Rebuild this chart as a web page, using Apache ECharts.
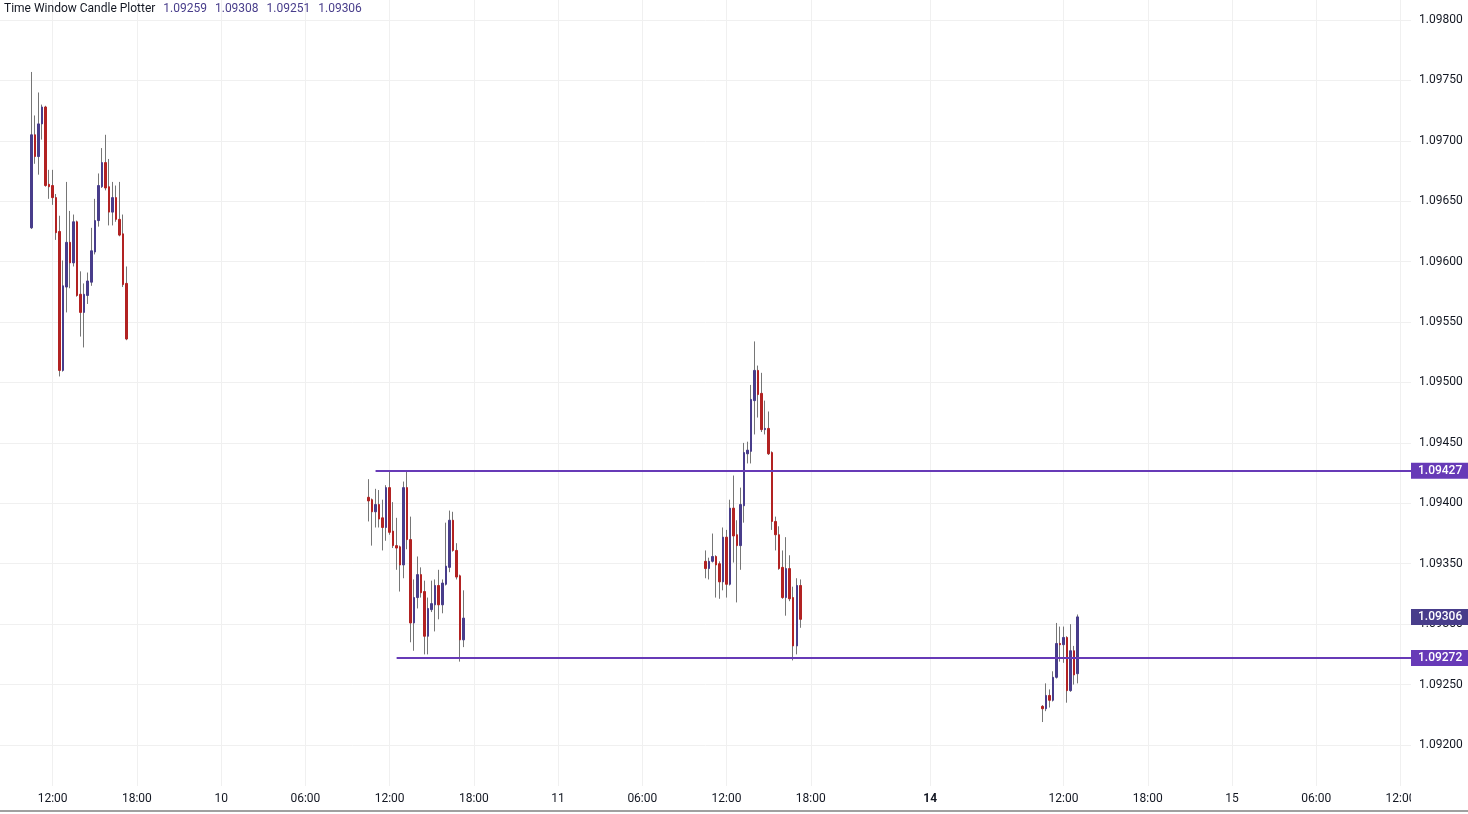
<!DOCTYPE html>
<html>
<head>
<meta charset="utf-8">
<script src="https://cdn.jsdelivr.net/npm/echarts@6/dist/echarts.min.js"></script>
<style>
html,body{margin:0;padding:0;background:#ffffff;}
#chart{width:1468px;height:814px;}
</style>
</head>
<body>
<div id="chart"></div>
<script>
// ---- time slots (15-minute bars, weekend removed) ----
const sessionDays = [
  { day: '09', from: '08:15', to: '23:45' },
  { day: '10', from: '00:00', to: '23:45' },
  { day: '11', from: '00:00', to: '23:45' },
  { day: '14', from: '00:00', to: '23:45' },
  { day: '15', from: '00:00', to: '12:45' }
];

// ---- tick labels on the time axis ----
const tickLabels = {
  '09 12:00': '12:00', '09 18:00': '18:00',
  '10 00:00': '10', '10 06:00': '06:00', '10 12:00': '12:00', '10 18:00': '18:00',
  '11 00:00': '11', '11 06:00': '06:00', '11 12:00': '12:00', '11 18:00': '18:00',
  '14 02:30': '14', '14 12:00': '12:00', '14 18:00': '18:00',
  '15 00:00': '15', '15 06:00': '06:00', '15 12:00': '12:00'
};
const boldTickLabels = ['14'];

// ---- candle windows: start slot and [open, high, low, close] ----
const windowStarts = ['09 10:30', '10 10:30', '11 10:30', '14 10:30'];

const window1 = [
  [1.09628, 1.09757, 1.09627, 1.09705],
  [1.09705, 1.09721, 1.09681, 1.09687],
  [1.09687, 1.09740, 1.09672, 1.09714],
  [1.09714, 1.09730, 1.09701, 1.09728],
  [1.09728, 1.09729, 1.09662, 1.09663],
  [1.09664, 1.09676, 1.09652, 1.09662],
  [1.09663, 1.09676, 1.09647, 1.09653],
  [1.09653, 1.09656, 1.09618, 1.09624],
  [1.09625, 1.09638, 1.09505, 1.09510],
  [1.09510, 1.09601, 1.09509, 1.09580],
  [1.09579, 1.09666, 1.09558, 1.09616],
  [1.09616, 1.09642, 1.09578, 1.09599],
  [1.09599, 1.09639, 1.09596, 1.09633],
  [1.09633, 1.09634, 1.09571, 1.09572],
  [1.09573, 1.09592, 1.09538, 1.09558],
  [1.09558, 1.09582, 1.09529, 1.09573],
  [1.09572, 1.09591, 1.09565, 1.09584],
  [1.09583, 1.09628, 1.09580, 1.09609],
  [1.09608, 1.09652, 1.09606, 1.09634],
  [1.09634, 1.09673, 1.09629, 1.09663],
  [1.09662, 1.09694, 1.09661, 1.09682],
  [1.09682, 1.09705, 1.09659, 1.09661],
  [1.09662, 1.09685, 1.09630, 1.09641],
  [1.09641, 1.09666, 1.09630, 1.09653],
  [1.09653, 1.09663, 1.09633, 1.09635],
  [1.09635, 1.09666, 1.09621, 1.09622],
  [1.09623, 1.09639, 1.09579, 1.09581],
  [1.09582, 1.09596, 1.09535, 1.09536]
];

const window2 = [
  [1.09405, 1.09420, 1.09385, 1.09402],
  [1.09403, 1.09404, 1.09365, 1.09393],
  [1.09393, 1.09412, 1.09380, 1.09399],
  [1.09399, 1.09411, 1.09380, 1.09387],
  [1.09388, 1.09403, 1.09361, 1.09380],
  [1.09380, 1.09415, 1.09369, 1.09413],
  [1.09413, 1.09427, 1.09374, 1.09376],
  [1.09377, 1.09401, 1.09363, 1.09365],
  [1.09365, 1.09388, 1.09345, 1.09363],
  [1.09364, 1.09365, 1.09327, 1.09349],
  [1.09349, 1.09418, 1.09338, 1.09413],
  [1.09413, 1.09427, 1.09362, 1.09370],
  [1.09370, 1.09389, 1.09285, 1.09301],
  [1.09301, 1.09337, 1.09278, 1.09322],
  [1.09322, 1.09356, 1.09313, 1.09341],
  [1.09341, 1.09347, 1.09322, 1.09326],
  [1.09327, 1.09336, 1.09275, 1.09290],
  [1.09290, 1.09322, 1.09275, 1.09313],
  [1.09312, 1.09336, 1.09310, 1.09317],
  [1.09316, 1.09337, 1.09294, 1.09332],
  [1.09332, 1.09345, 1.09304, 1.09316],
  [1.09316, 1.09337, 1.09309, 1.09334],
  [1.09333, 1.09384, 1.09332, 1.09348],
  [1.09347, 1.09394, 1.09343, 1.09386],
  [1.09386, 1.09393, 1.09360, 1.09361],
  [1.09361, 1.09367, 1.09337, 1.09339],
  [1.09340, 1.09341, 1.09269, 1.09287],
  [1.09287, 1.09328, 1.09281, 1.09305]
];

const window3 = [
  [1.09352, 1.09361, 1.09338, 1.09346],
  [1.09346, 1.09355, 1.09337, 1.09352],
  [1.09352, 1.09375, 1.09351, 1.09356],
  [1.09356, 1.09357, 1.09322, 1.09349],
  [1.09350, 1.09352, 1.09321, 1.09335],
  [1.09335, 1.09380, 1.09328, 1.09372],
  [1.09372, 1.09378, 1.09322, 1.09333],
  [1.09333, 1.09403, 1.09332, 1.09396],
  [1.09396, 1.09423, 1.09351, 1.09373],
  [1.09374, 1.09386, 1.09318, 1.09365],
  [1.09365, 1.09413, 1.09345, 1.09399],
  [1.09398, 1.09450, 1.09384, 1.09442],
  [1.09441, 1.09451, 1.09433, 1.09444],
  [1.09443, 1.09498, 1.09433, 1.09486],
  [1.09485, 1.09534, 1.09457, 1.09510],
  [1.09510, 1.09514, 1.09471, 1.09490],
  [1.09491, 1.09508, 1.09459, 1.09461],
  [1.09461, 1.09485, 1.09457, 1.09462],
  [1.09462, 1.09476, 1.09440, 1.09441],
  [1.09442, 1.09443, 1.09378, 1.09385],
  [1.09385, 1.09389, 1.09361, 1.09374],
  [1.09374, 1.09381, 1.09345, 1.09346],
  [1.09347, 1.09361, 1.09321, 1.09322],
  [1.09322, 1.09372, 1.09307, 1.09346],
  [1.09346, 1.09357, 1.09319, 1.09321],
  [1.09322, 1.09331, 1.09270, 1.09282],
  [1.09282, 1.09338, 1.09275, 1.09332],
  [1.09332, 1.09337, 1.09297, 1.09304]
];

const window4 = [
  [1.09232, 1.09233, 1.09219, 1.09230],
  [1.09230, 1.09251, 1.09228, 1.09241],
  [1.09241, 1.09246, 1.09231, 1.09237],
  [1.09237, 1.09261, 1.09236, 1.09256],
  [1.09256, 1.09301, 1.09255, 1.09284],
  [1.09284, 1.09298, 1.09269, 1.09283],
  [1.09283, 1.09298, 1.09268, 1.09289],
  [1.09289, 1.09290, 1.09235, 1.09245],
  [1.09245, 1.09300, 1.09244, 1.09278],
  [1.09278, 1.09282, 1.09250, 1.09258],
  [1.09259, 1.09308, 1.09251, 1.09306]
];

// ---- horizontal levels ----
const levelValues = [1.09427, 1.09272];
const levelStarts = ['10 11:00', '10 12:30'];

// ---- colours ----
const BULL = '#483D8B';
const BEAR = '#B22222';
const WICK = '#767676';
const LEVEL = '#673AB7';
const GRIDC = '#f0f0f0';
const TEXT = '#131722';
const FONT = 'Roboto, "Noto Sans", sans-serif';

// ---- build categories ----
function toMin(s) { const p = s.split(':').map(Number); return p[0] * 60 + p[1]; }
function pad(n) { return String(n).padStart(2, '0'); }
const categories = [];
sessionDays.forEach(function (d) {
  for (let t = toMin(d.from); t <= toMin(d.to); t += 15) {
    categories.push(d.day + ' ' + pad(Math.floor(t / 60)) + ':' + pad(t % 60));
  }
});
const lastIdx = categories.length - 1;

// ---- build candle data ----
const windows = [window1, window2, window3, window4];
const wickData = [];
const bodyData = [];
windows.forEach(function (win, w) {
  const s = categories.indexOf(windowStarts[w]);
  win.forEach(function (c, i) {
    const o = c[0], h = c[1], l = c[2], cl = c[3];
    wickData.push([s + i, o, cl, l, h]);
    bodyData.push([s + i, o, cl, Math.min(o, cl), Math.max(o, cl)]);
  });
});
const lastCandle = window4[window4.length - 1];
const lastColor = lastCandle[3] >= lastCandle[0] ? BULL : BEAR;

function boxLabel(text, bg) {
  return {
    show: true, position: 'end', distance: 0, formatter: text,
    color: '#ffffff', backgroundColor: bg, fontSize: 12, fontFamily: FONT,
    fontWeight: 500, lineHeight: 13, padding: [2, 7, 1, 7], opacity: 1
  };
}

const markData = levelValues.map(function (v, i) {
  return [
    { coord: [categories.indexOf(levelStarts[i]), v], lineStyle: { color: LEVEL, width: 2, type: 'solid' }, label: boxLabel(v.toFixed(5), LEVEL) },
    { coord: [lastIdx, v] }
  ];
});
const lastPriceMark = [[
  { coord: [lastIdx - 1, lastCandle[3]], lineStyle: { color: 'rgba(255,255,255,0)', width: 1, type: 'solid' }, label: boxLabel(lastCandle[3].toFixed(5), lastColor) },
  { coord: [lastIdx, lastCandle[3]] }
]];

const chart = echarts.init(document.getElementById('chart'), null, { renderer: 'canvas' });
chart.setOption({
  animation: false,
  backgroundColor: '#ffffff',
  title: {
    left: 4, top: 1, padding: 0,
    text: '{t|Time Window Candle Plotter}' + lastCandle.map(function (v) { return '{v|' + v.toFixed(5) + '}'; }).join(''),
    textStyle: {
      fontWeight: 'normal',
      rich: {
        t: { color: TEXT, fontSize: 12, fontWeight: 'normal', fontFamily: FONT, lineHeight: 16 },
        v: { color: lastColor, fontSize: 12, fontWeight: 'normal', fontFamily: FONT, lineHeight: 16, padding: [0, 0, 0, 8] }
      }
    }
  },
  grid: { left: 0, right: 57, top: 0, bottom: 28, containLabel: false, outerBoundsMode: 'none' },
  xAxis: {
    type: 'category',
    data: categories,
    boundaryGap: false,
    axisLine: { show: false },
    axisTick: { show: false },
    axisLabel: {
      interval: function (i, v) { return tickLabels[v] !== undefined; },
      formatter: function (v) {
        const t = tickLabels[v];
        if (t === undefined) return '';
        return boldTickLabels.indexOf(t) >= 0 ? '{b|' + t + '}' : t;
      },
      color: TEXT, fontSize: 12, fontFamily: FONT, margin: 7,
      rich: { b: { fontWeight: 'bold', color: TEXT, fontSize: 12, fontFamily: FONT } }
    },
    splitLine: {
      show: true,
      interval: function (i, v) { return tickLabels[v] !== undefined; },
      lineStyle: { color: GRIDC, width: 1 }
    }
  },
  yAxis: {
    type: 'value',
    position: 'right',
    min: 1.0916606,
    max: 1.0981655,
    splitNumber: 13,
    axisLine: { show: false },
    axisTick: { show: false },
    axisLabel: {
      formatter: function (v) { return v.toFixed(5); },
      color: TEXT, fontSize: 12, fontFamily: FONT, margin: 8,
      showMinLabel: false, showMaxLabel: false
    },
    splitLine: { show: true, showMinLine: false, showMaxLine: false, lineStyle: { color: GRIDC, width: 1 } }
  },
  series: [
    {
      name: 'wick',
      type: 'candlestick',
      data: wickData,
      encode: { x: 0, y: [1, 2, 3, 4] },
      barWidth: 1,
      itemStyle: { color: WICK, color0: WICK, borderColor: WICK, borderColor0: WICK, borderWidth: 1 },
      silent: true,
      markLine: { symbol: ['none', 'none'], silent: true, animation: false, z: 10, data: lastPriceMark }
    },
    {
      name: 'body',
      type: 'candlestick',
      data: bodyData,
      encode: { x: 0, y: [1, 2, 3, 4] },
      barWidth: 2,
      itemStyle: { color: BULL, color0: BEAR, borderColor: BULL, borderColor0: BEAR, borderWidth: 1 },
      silent: true,
      markLine: { symbol: ['none', 'none'], silent: true, animation: false, data: markData }
    }
  ],
  graphic: [
    { type: 'rect', z: 100, shape: { x: 1411, y: 787, width: 57, height: 22 }, style: { fill: '#ffffff' } },
    { type: 'line', z: 101, shape: { x1: 0, y1: 811, x2: 1468, y2: 811 }, style: { stroke: '#a0a0a0', lineWidth: 2 } }
  ]
});
</script>
</body>
</html>
